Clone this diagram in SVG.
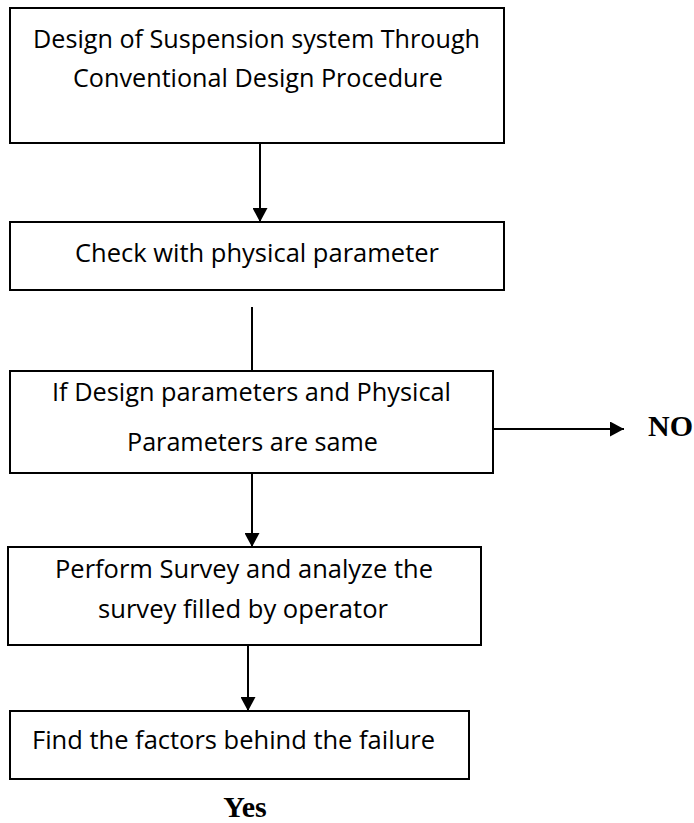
<svg xmlns="http://www.w3.org/2000/svg" width="694" height="823" viewBox="0 0 694 823">
<style>
.box{fill:#fff;stroke:#000;stroke-width:2}
.t{font-family:"Open Sans","Noto Sans",sans-serif;font-size:26px;fill:#000}
.b{font-family:"Liberation Serif","Times New Roman",serif;font-size:30px;font-weight:bold;fill:#000}
.ln{stroke:#000;stroke-width:2;fill:none}
</style>
<defs>
<marker id="ah" viewBox="0 0 14 15" refX="14" refY="7.5" markerWidth="14" markerHeight="15" markerUnits="userSpaceOnUse" orient="auto">
<path d="M0,0 L14,7.5 L0,15 Z" fill="#000"/>
</marker>
</defs>
<rect width="694" height="823" fill="#fff"/>
<g id="connectors">
<line class="ln" x1="260" y1="143" x2="260" y2="222" marker-end="url(#ah)"/>
<line class="ln" x1="252" y1="307" x2="252" y2="371"/>
<line class="ln" x1="252" y1="473" x2="252" y2="547" marker-end="url(#ah)"/>
<line class="ln" x1="248" y1="645" x2="248" y2="711" marker-end="url(#ah)"/>
<line class="ln" x1="494" y1="429" x2="624" y2="429" marker-end="url(#ah)"/>
</g>
<g id="n1">
<rect class="box" x="10" y="8" width="494" height="135"/>
<text class="t" x="33" y="47.5" textLength="447" lengthAdjust="spacingAndGlyphs">Design of Suspension system Through</text>
<text class="t" x="73" y="86.5" textLength="370" lengthAdjust="spacingAndGlyphs">Conventional Design Procedure</text>
</g>
<g id="n2">
<rect class="box" x="10" y="222" width="494" height="68"/>
<text class="t" x="75" y="262" textLength="364" lengthAdjust="spacingAndGlyphs">Check with physical parameter</text>
</g>
<g id="n3">
<rect class="box" x="10" y="371" width="483" height="102"/>
<text class="t" x="52" y="400.5" textLength="399" lengthAdjust="spacingAndGlyphs">If Design parameters and Physical</text>
<text class="t" x="127" y="450.5" textLength="251" lengthAdjust="spacingAndGlyphs">Parameters are same</text>
</g>
<g id="n4">
<rect class="box" x="8" y="547" width="473" height="98"/>
<text class="t" x="55" y="578" textLength="378" lengthAdjust="spacingAndGlyphs">Perform Survey and analyze the</text>
<text class="t" x="98" y="617.5" textLength="290" lengthAdjust="spacingAndGlyphs">survey filled by operator</text>
</g>
<g id="n5">
<rect class="box" x="10" y="711" width="459" height="68"/>
<text class="t" x="32" y="749" textLength="403" lengthAdjust="spacingAndGlyphs">Find the factors behind the failure</text>
</g>
<g id="labels">
<text class="b" x="648" y="436">NO</text>
<text class="b" x="245" y="816.5" text-anchor="middle">Yes</text>
</g>
</svg>
